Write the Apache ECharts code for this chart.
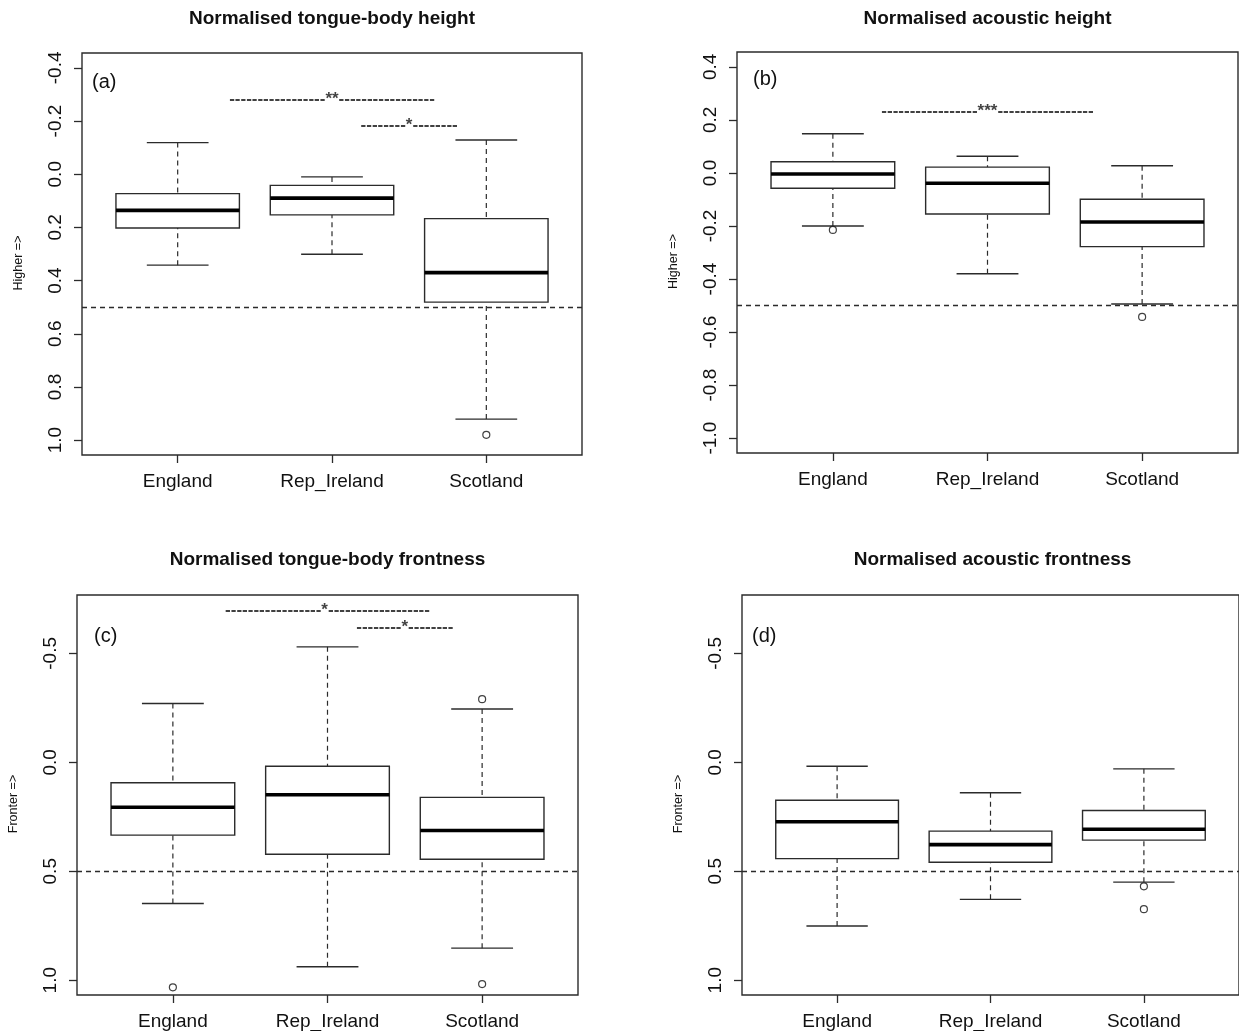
<!DOCTYPE html>
<html><head><meta charset="utf-8">
<script src="https://cdn.jsdelivr.net/npm/echarts@6/dist/echarts.min.js"></script>
<style>html,body{margin:0;padding:0;background:#fff}#c{width:1239px;height:1031px}</style>
</head><body><div id="c"></div>
<script>
const categories = ['England', 'Rep_Ireland', 'Scotland'];
const categoryPositions = [1, 2, 3];

// each row: [lower whisker, Q1, median, Q3, upper whisker]
const tongueHeight = [[-0.119, 0.073, 0.136, 0.202, 0.342], [0.010, 0.042, 0.090, 0.153, 0.301], [-0.129, 0.167, 0.370, 0.481, 0.921]];
const tongueHeightOutliers = [[3, 0.980]];
const acousticHeight = [[-0.200, -0.058, -0.004, 0.042, 0.148], [-0.380, -0.155, -0.039, 0.022, 0.063], [-0.494, -0.278, -0.185, -0.099, 0.027]];
const acousticHeightOutliers = [[1, -0.215], [3, -0.543]];
const tongueFront = [[-0.270, 0.094, 0.206, 0.334, 0.648], [-0.530, 0.018, 0.149, 0.422, 0.938], [-0.245, 0.161, 0.313, 0.445, 0.853]];
const tongueFrontOutliers = [[1, 1.033], [3, -0.290], [3, 1.018]];
const acousticFront = [[0.018, 0.174, 0.273, 0.442, 0.751], [0.140, 0.316, 0.378, 0.459, 0.629], [0.030, 0.221, 0.307, 0.357, 0.550]];
const acousticFrontOutliers = [[3, 0.569], [3, 0.674]];

const heightTicks = [-0.4, -0.2, 0.0, 0.2, 0.4, 0.6, 0.8, 1.0];
const acousticHeightTicks = [-1.0, -0.8, -0.6, -0.4, -0.2, 0.0, 0.2, 0.4];
const frontTicks = [-0.5, 0.0, 0.5, 1.0];

const referenceLines = [0.5, -0.5, 0.5, 0.5];

// significance annotations: [x, y, text]
const sigA = [[2, -0.28, '-----------------**-----------------'], [2.5, -0.183, '--------*--------']];
const sigB = [[2, 0.234, '-----------------***-----------------']];
const sigC = [[2, -0.70, '-----------------*------------------'], [2.5, -0.62, '--------*--------']];
const sigD = [];

const panelTitles = ['Normalised tongue-body height', 'Normalised acoustic height', 'Normalised tongue-body frontness', 'Normalised acoustic frontness'];
const panelTags = ['(a)', '(b)', '(c)', '(d)'];
const yNames = ['Higher =>', 'Higher =>', 'Fronter =>', 'Fronter =>'];

const FONT = '"Liberation Sans", Arial, sans-serif';
const INK = '#2b2b2b';

const panels = [
  { grid: { left: 82, top: 53, width: 500, height: 402 }, ylim: [-0.456, 1.056], inverse: true, ticks: heightTicks, stats: tongueHeight, out: tongueHeightOutliers, sig: sigA, titleY: 9, tagPos: [92, 72] },
  { grid: { left: 737, top: 52, width: 501, height: 401 }, ylim: [-1.056, 0.456], inverse: false, ticks: acousticHeightTicks, stats: acousticHeight, out: acousticHeightOutliers, sig: sigB, titleY: 9, tagPos: [753, 69] },
  { grid: { left: 77, top: 595, width: 501, height: 401 }, ylim: [-0.768, 1.068], inverse: true, ticks: frontTicks, stats: tongueFront, out: tongueFrontOutliers, sig: sigC, titleY: 550, tagPos: [94, 626] },
  { grid: { left: 742, top: 595, width: 501, height: 401 }, ylim: [-0.768, 1.068], inverse: true, ticks: frontTicks, stats: acousticFront, out: acousticFrontOutliers, sig: sigD, titleY: 550, tagPos: [752, 626] }
];

function renderBox(params, api) {
  const x = api.value(0);
  const lo = api.value(1), q1 = api.value(2), med = api.value(3), q3 = api.value(4), hi = api.value(5);
  const halfBox = api.size([0.4, 0])[0];
  const halfStaple = api.size([0.2, 0])[0];
  const pLo = api.coord([x, lo]), pQ1 = api.coord([x, q1]), pMed = api.coord([x, med]), pQ3 = api.coord([x, q3]), pHi = api.coord([x, hi]);
  const cx = pMed[0];
  const dashStyle = { stroke: INK, lineWidth: 1.2, lineDash: [5, 4] };
  const solid = { stroke: INK, lineWidth: 1.4 };
  const top = Math.min(pQ1[1], pQ3[1]);
  const h = Math.abs(pQ1[1] - pQ3[1]);
  return {
    type: 'group',
    children: [
      { type: 'line', shape: { x1: cx, y1: pHi[1], x2: cx, y2: pQ3[1] }, style: dashStyle },
      { type: 'line', shape: { x1: cx, y1: pLo[1], x2: cx, y2: pQ1[1] }, style: dashStyle },
      { type: 'line', shape: { x1: cx - halfStaple, y1: pHi[1], x2: cx + halfStaple, y2: pHi[1] }, style: solid },
      { type: 'line', shape: { x1: cx - halfStaple, y1: pLo[1], x2: cx + halfStaple, y2: pLo[1] }, style: solid },
      { type: 'rect', shape: { x: cx - halfBox, y: top, width: 2 * halfBox, height: h }, style: { fill: '#fff', stroke: INK, lineWidth: 1.4 } },
      { type: 'line', shape: { x1: cx - halfBox, y1: pMed[1], x2: cx + halfBox, y2: pMed[1] }, style: { stroke: '#000', lineWidth: 3.6 } }
    ]
  };
}

const option = {
  backgroundColor: '#fff',
  animation: false,
  title: [],
  grid: [],
  xAxis: [],
  yAxis: [],
  series: []
};

panels.forEach((p, i) => {
  option.title.push({
    text: panelTitles[i], left: p.grid.left + p.grid.width / 2, top: p.titleY, textAlign: 'center', padding: 0,
    textStyle: { fontFamily: FONT, fontSize: 19, fontWeight: 'bold', color: '#111' }
  });
  option.title.push({
    text: panelTags[i], left: p.tagPos[0], top: p.tagPos[1], padding: 0,
    textStyle: { fontFamily: FONT, fontSize: 20, fontWeight: 'normal', color: '#111' }
  });
  option.grid.push(Object.assign({ show: true, borderColor: INK, borderWidth: 1.4, backgroundColor: 'transparent', containLabel: false }, p.grid));
  option.xAxis.push({
    type: 'value', gridIndex: i, min: 0.38, max: 3.62, position: 'bottom',
    axisLine: { show: false, onZero: false },
    splitLine: { show: false },
    axisTick: { show: true, length: 8, customValues: categoryPositions, lineStyle: { color: INK, width: 1.3 } },
    axisLabel: {
      show: true, customValues: categoryPositions, margin: 17,
      fontFamily: FONT, fontSize: 19, color: '#111',
      formatter: v => categories[Math.round(v) - 1]
    }
  });
  option.yAxis.push({
    type: 'value', gridIndex: i, min: p.ylim[0], max: p.ylim[1], inverse: p.inverse, position: 'left',
    name: yNames[i], nameLocation: 'middle', nameGap: 57, nameRotate: 90,
    nameTextStyle: { fontFamily: FONT, fontSize: 12.5, color: '#111', padding: [0, 18, 0, 0] },
    axisLine: { show: false, onZero: false },
    splitLine: { show: false },
    axisTick: { show: true, length: 8, customValues: p.ticks, lineStyle: { color: INK, width: 1.3 } },
    axisLabel: {
      show: true, customValues: p.ticks, rotate: 90, margin: 17,
      fontFamily: FONT, fontSize: 19, color: '#111',
      formatter: v => v.toFixed(1)
    }
  });
  option.series.push({
    type: 'custom', xAxisIndex: i, yAxisIndex: i,
    renderItem: renderBox,
    encode: { x: 0, y: [1, 2, 3, 4, 5] },
    data: p.stats.map((s, k) => [categoryPositions[k]].concat(s)),
    z: 3
  });
  option.series.push({
    type: 'scatter', xAxisIndex: i, yAxisIndex: i,
    symbol: 'circle', symbolSize: 7,
    itemStyle: { color: '#fff', borderColor: '#111', borderWidth: 1.2 },
    data: p.out,
    z: 4,
    markLine: {
      silent: true, symbol: 'none', animation: false,
      label: { show: false },
      lineStyle: { type: [5, 4], color: INK, width: 1.3 },
      data: [{ yAxis: referenceLines[i] }]
    }
  });
  option.series.push({
    type: 'scatter', xAxisIndex: i, yAxisIndex: i,
    symbolSize: 0,
    data: p.sig.map(s => ({ value: [s[0], s[1]], name: s[2] })),
    label: {
      show: true, position: 'inside', formatter: '{b}',
      fontFamily: FONT, fontSize: 17, fontWeight: 'bold', color: '#111'
    },
    z: 5
  });
});

const chart = echarts.init(document.getElementById('c'), null, { renderer: 'canvas' });
chart.setOption(option);
</script>
</body></html>
